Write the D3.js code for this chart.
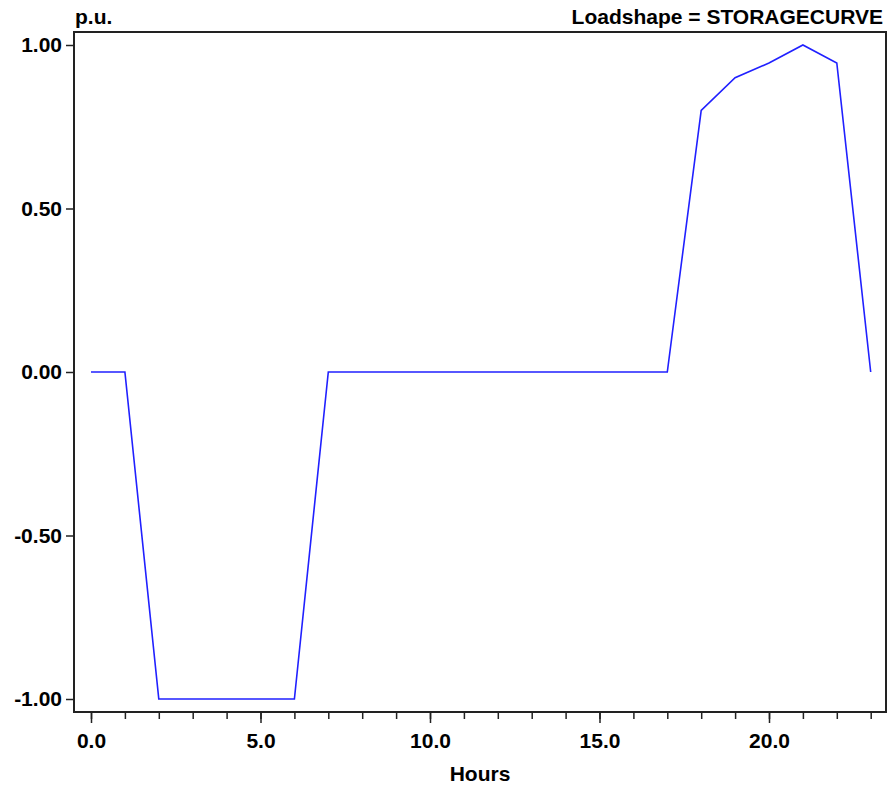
<!DOCTYPE html>
<html>
<head>
<meta charset="utf-8">
<script src="https://cdn.jsdelivr.net/npm/d3@7"></script>
<style>
  body { margin: 0; background: #fff; }
  text { font-family: "Liberation Sans", Arial, sans-serif; font-weight: bold; fill: #000; }
</style>
</head>
<body>
<script>
// Loadshape STORAGECURVE, one value per hour
const hours = d3.range(0, 24);
const values = [0, 0, -1, -1, -1, -1, -1, 0, 0, 0, 0, 0, 0, 0, 0, 0, 0, 0,
                0.80, 0.90, 0.945, 1.00, 0.945, 0];
const xTicks = [0, 5, 10, 15, 20];
const yTicks = [-1, -0.5, 0, 0.5, 1];

const width = 888;
const height = 786;
const frame = { left: 74, top: 32, right: 886, bottom: 712 };
const fontSize = "21px";

const svg = d3.select("body")
    .append("svg")
    .attr("width", width)
    .attr("height", height);

const x = d3.scaleLinear()
    .domain([0, 20])
    .range([91, 769]);

const y = d3.scaleLinear()
    .domain([-1, 1])
    .range([699, 45]);

// plain hyphen for negatives, like the original
const fmtY = d => d3.format(".2f")(d).replace("\u2212", "-");

// frame
svg.append("rect")
    .attr("x", frame.left)
    .attr("y", frame.top)
    .attr("width", frame.right - frame.left)
    .attr("height", frame.bottom - frame.top)
    .attr("fill", "none")
    .attr("stroke", "#222")
    .attr("stroke-width", 2);

// y axis
const yAxis = svg.append("g")
    .attr("transform", `translate(${frame.left},0)`)
    .call(d3.axisLeft(y).tickValues(yTicks).tickSize(8).tickPadding(4).tickFormat(fmtY));
yAxis.select(".domain").remove();
yAxis.selectAll("line").attr("stroke", "#222").attr("stroke-width", 1.5);
yAxis.selectAll("text").style("font-size", fontSize).attr("fill", "#000");

// x axis, minor ticks every hour
const xMinor = svg.append("g")
    .attr("transform", `translate(0,${frame.bottom})`)
    .call(d3.axisBottom(x).tickValues(hours).tickSize(7).tickFormat(""));
xMinor.select(".domain").remove();
xMinor.selectAll("line").attr("stroke", "#222").attr("stroke-width", 1.5);

const xAxis = svg.append("g")
    .attr("transform", `translate(0,${frame.bottom})`)
    .call(d3.axisBottom(x).tickValues(xTicks).tickSize(11).tickPadding(10).tickFormat(d3.format(".1f")));
xAxis.select(".domain").remove();
xAxis.selectAll("line").attr("stroke", "#222").attr("stroke-width", 1.5);
xAxis.selectAll("text").style("font-size", fontSize).attr("fill", "#000");

// curve
const line = d3.line()
    .x((d, i) => x(hours[i]))
    .y(d => y(d));

svg.append("path")
    .datum(values)
    .attr("fill", "none")
    .attr("stroke", "#2020ff")
    .attr("stroke-width", 1.6)
    .attr("d", line);

// labels
svg.append("text")
    .attr("x", 75)
    .attr("y", 24)
    .style("font-size", fontSize)
    .text("p.u.");

svg.append("text")
    .attr("x", 883)
    .attr("y", 24)
    .attr("text-anchor", "end")
    .style("font-size", fontSize)
    .text("Loadshape = STORAGECURVE");

svg.append("text")
    .attr("x", 480)
    .attr("y", 781)
    .attr("text-anchor", "middle")
    .style("font-size", fontSize)
    .text("Hours");
</script>
</body>
</html>
